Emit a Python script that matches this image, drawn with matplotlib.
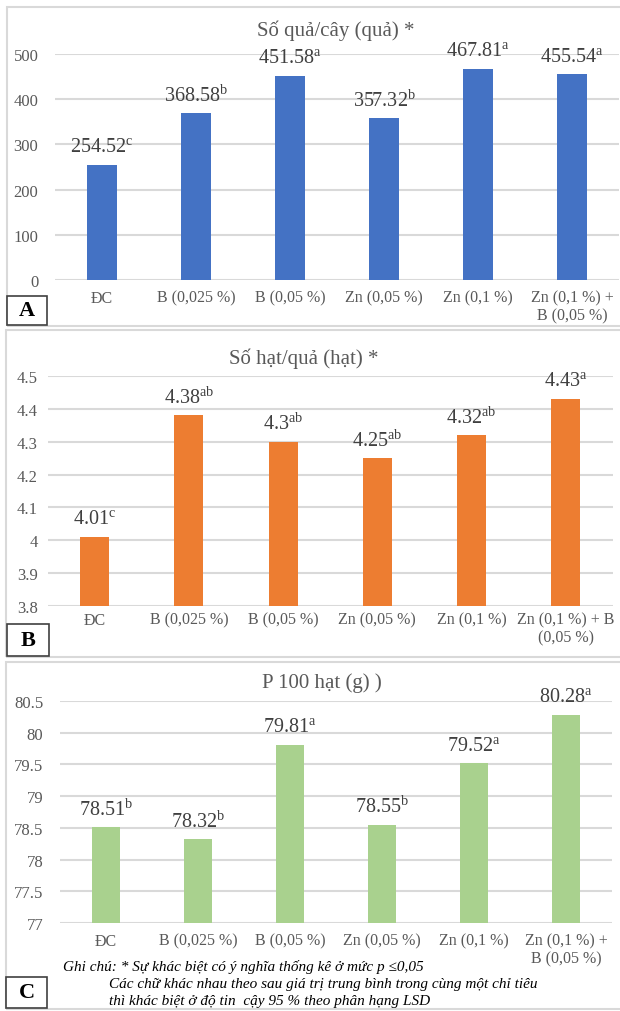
import matplotlib.pyplot as plt
from matplotlib.patches import Rectangle

plt.rcParams['font.family'] = ['Liberation Serif', 'DejaVu Serif']
plt.rcParams['mathtext.fontset'] = 'custom'
plt.rcParams['mathtext.rm'] = 'Liberation Serif'

# data
treatments_a = ['ĐC', 'B (0,025 %)', 'B (0,05 %)', 'Zn (0,05 %)', 'Zn (0,1 %)', 'Zn (0,1 %) +\nB (0,05 %)']
treatments_b = ['ĐC', 'B (0,025 %)', 'B (0,05 %)', 'Zn (0,05 %)', 'Zn (0,1 %)', 'Zn (0,1 %) + B\n(0,05 %)']
treatments_c = treatments_a

fruits_per_plant = [254.52, 368.58, 451.58, 357.32, 467.81, 455.54]
fruits_letters = ['c', 'b', 'a', 'b', 'a', 'a']

seeds_per_fruit = [4.01, 4.38, 4.30, 4.25, 4.32, 4.43]
seeds_letters = ['c', 'ab', 'ab', 'ab', 'ab', 'a']

weight_100_seeds = [78.51, 78.32, 79.81, 78.55, 79.52, 80.28]
weight_letters = ['b', 'b', 'a', 'b', 'a', 'a']

ticks_a = [0, 100, 200, 300, 400, 500]
ticks_b = [3.8, 3.9, 4.0, 4.1, 4.2, 4.3, 4.4, 4.5]
ticks_c = [77, 77.5, 78, 78.5, 79, 79.5, 80, 80.5]

note_lines = [
    'Ghi chú: * Sự khác biệt có ý nghĩa thống kê ở mức p ≤0,05',
    'Các chữ khác nhau theo sau giá trị trung bình trong cùng một chỉ tiêu',
    'thì khác biệt ở độ tin  cậy 95 % theo phân hạng LSD',
]

W, H = 620, 1012
GRID = '#d9d9d9'
TICK = '#595959'
LABEL = '#404040'


def px_axes(fig, left, top, right, bottom):
    # pixel box (from top-left) -> figure fraction axes
    return fig.add_axes([left / W, (H - bottom) / H, (right - left) / W, (bottom - top) / H])


def draw_panel(fig, box, values, letters, cats, color, ticks, title, title_xy, ypad, xpad):
    ax = px_axes(fig, *box)
    x = range(len(values))
    ax.bar(x, values, width=0.31, color=color, zorder=2)
    ax.set_xlim(-0.5, len(values) - 0.5)
    ax.set_ylim(ticks[0], ticks[-1])
    ax.set_yticks(ticks)
    ax.set_yticklabels([f'{t:g}' for t in ticks])
    ax.set_xticks(list(x))
    ax.set_xticklabels(cats, fontsize=11.5, color=TICK, linespacing=1.15)
    ax.tick_params(axis='y', length=0, labelsize=12, labelcolor=TICK, pad=ypad)
    ax.tick_params(axis='x', length=0, pad=xpad)
    for s in ax.spines.values():
        s.set_visible(False)
    ax.yaxis.grid(True, color=GRID, lw=1.5)
    ax.set_axisbelow(True)

    for i, (v, l) in enumerate(zip(values, letters)):
        txt = f'{v:g}' + r'$^{\mathrm{' + l + '}}$'
        ax.annotate(txt, (i, v), xytext=(0, 9), textcoords='offset points',
                    ha='center', va='baseline', fontsize=14.5, color=LABEL)

    fig.text(title_xy[0] / W, 1 - title_xy[1] / H, title, ha='center', va='center',
             fontsize=15, color=TICK)
    return ax


def frame(fig, left, top, right, bottom, letter, lbox):
    # light panel border plus the small lettered box
    fig.patches.append(Rectangle((left / W, 1 - bottom / H), (right - left) / W, (bottom - top) / H,
                                 transform=fig.transFigure, fill=False, ec=GRID, lw=1.5))
    l, t, r, b = lbox
    fig.patches.append(Rectangle((l / W, 1 - b / H), (r - l) / W, (b - t) / H,
                                 transform=fig.transFigure, fc='white', ec='#404040', lw=1.2, zorder=5))
    fig.text((l + r) / 2 / W, 1 - (t + b) / 2 / H, letter, ha='center', va='center',
             fontsize=16, fontweight='bold', color='black', zorder=6)


fig = plt.figure(figsize=(W / 100, H / 100), dpi=100)

frame(fig, 7, 8, 630, 327, 'A', (7, 297, 47, 326))
frame(fig, 6, 331, 630, 658, 'B', (7, 625, 49, 657))
frame(fig, 6, 663, 630, 1010, 'C', (6, 978, 47, 1009))

draw_panel(fig, (55, 55, 619, 281), fruits_per_plant, fruits_letters, treatments_a,
           '#4472c4', ticks_a, 'Số quả/cây (quả) *', (336, 31), 12, 7)
draw_panel(fig, (47.5, 377, 613, 607), seeds_per_fruit, seeds_letters, treatments_b,
           '#ed7d31', ticks_b, 'Số hạt/quả (hạt) *', (304, 359), 7, 4)
draw_panel(fig, (60, 702, 612, 924), weight_100_seeds, weight_letters, treatments_c,
           '#a9d18e', ticks_c, 'P 100 hạt (g) )', (322, 683), 12, 7)

note_pos = [(63, 967), (109, 985), (109, 1002)]
for (nx, ny), line in zip(note_pos, note_lines):
    fig.text(nx / W, 1 - ny / H, line, ha='left', va='center', fontsize=11,
             fontstyle='italic', color='black')

fig.savefig('out.png', dpi=100)
